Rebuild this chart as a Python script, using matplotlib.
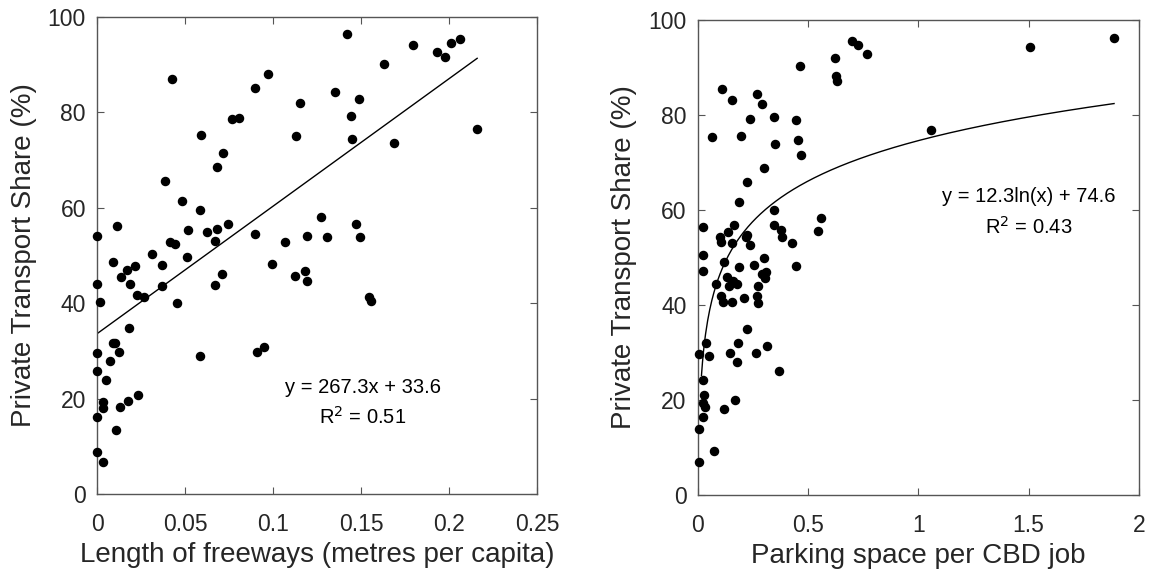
import numpy as np
import matplotlib
matplotlib.use("Agg")
import matplotlib.pyplot as plt

plt.rcParams['font.family'] = ['Liberation Sans', 'DejaVu Sans']

# Left panel: length of freeways (m per capita) vs private transport share (%)
fw_x = [0.0428, 0.097, 0.0898, 0.0769, 0.0807, 0.0593, 0.0714, 0.0682, 0.0388, 0.0481,
        0.0583, 0.0115, 0.0, 0.0519, 0.0627, 0.068, 0.0742, 0.0898, 0.0672, 0.0415,
        0.0445, 0.1068, 0.0089, 0.0311, 0.051, 0.0169, 0.0216, 0.0136, 0.0371, 0.0186,
        0.0002, 0.0371, 0.0225, 0.0265, 0.0017, 0.0455, 0.0992, 0.067, 0.071, 0.0184,
        0.0089, 0.0104, 0.0127, 0.0, 0.0074, 0.0, 0.0051, 0.0585, 0.0907, 0.0951,
        0.0036, 0.0036, 0.0131, 0.0178, 0.0231, 0.0, 0.0108, 0.0, 0.0032,
        0.1419, 0.1794, 0.193, 0.1977, 0.2013, 0.2064, 0.1633, 0.1354, 0.1153, 0.1487,
        0.1441, 0.1129, 0.1451, 0.1685, 0.2161, 0.1275, 0.1472, 0.1193, 0.1307, 0.1494,
        0.1123, 0.118, 0.1195, 0.1547, 0.1559]
fw_y = [87.0, 88.0, 85.1, 78.7, 78.9, 75.3, 71.4, 68.6, 65.7, 61.4,
        59.6, 56.2, 54.0, 55.4, 55.0, 55.5, 56.5, 54.6, 53.1, 52.9,
        52.5, 52.8, 48.7, 50.4, 49.6, 46.9, 47.7, 45.5, 48.0, 44.1,
        44.1, 43.7, 41.7, 41.3, 40.3, 40.1, 48.2, 43.9, 46.2, 34.7,
        31.7, 31.7, 29.8, 29.5, 27.8, 25.8, 24.0, 29.0, 29.8, 30.9,
        19.2, 18.0, 18.2, 19.6, 20.8, 16.1, 13.5, 8.9, 6.7,
        96.4, 94.1, 92.6, 91.6, 94.6, 95.3, 90.2, 84.2, 82.0, 82.8,
        79.2, 75.0, 74.5, 73.6, 76.6, 58.1, 56.6, 54.0, 53.8, 53.9,
        45.8, 46.7, 44.6, 41.3, 40.4]
fw_slope, fw_icept = 267.3, 33.6
fw_xmax = 0.216

# Right panel: parking space per CBD job vs private transport share (%)
pk_x = [0.699, 0.729, 0.769, 0.623, 0.466, 0.628, 0.631, 0.113, 0.157, 0.270,
        0.293, 0.238, 0.348, 0.445, 0.0665, 0.196, 0.350, 0.454, 0.468, 0.300,
        0.225, 0.186, 0.348, 0.027, 0.165, 0.346, 0.558, 0.548, 0.379, 0.382,
        0.427, 0.140, 0.103, 0.107, 0.157, 0.226, 0.220, 0.238,
        0.024, 0.024, 0.122, 0.189, 0.258, 0.300, 0.447, 0.133, 0.085, 0.143,
        0.160, 0.178, 0.291, 0.311, 0.305, 0.276, 0.107, 0.116, 0.156, 0.211,
        0.270, 0.272, 0.222, 0.039, 0.184, 0.317, 0.005, 0.050, 0.148, 0.264,
        0.177, 0.370, 0.024, 0.030, 0.027, 0.033, 0.172, 0.121, 0.024, 0.006,
        0.076, 0.005, 1.505, 1.887, 1.059]
pk_y = [95.6, 94.8, 92.8, 91.9, 90.4, 88.3, 87.2, 85.4, 83.1, 84.4,
        82.3, 79.2, 79.5, 78.9, 75.3, 75.6, 73.9, 74.7, 71.6, 68.8,
        66.0, 61.7, 60.0, 56.4, 56.8, 56.8, 58.4, 55.6, 55.7, 54.3,
        53.1, 55.3, 54.3, 53.3, 53.1, 54.7, 54.3, 52.7,
        50.6, 47.2, 49.0, 48.0, 48.4, 49.9, 48.3, 46.0, 44.4, 44.1,
        45.1, 44.4, 46.5, 47.0, 45.7, 43.9, 42.0, 40.6, 40.7, 41.4,
        41.8, 40.4, 34.9, 31.9, 31.9, 31.3, 29.7, 29.2, 30.0, 30.0,
        28.0, 26.1, 24.2, 21.1, 19.4, 18.5, 19.9, 18.2, 16.4, 13.8,
        9.3, 6.9, 94.4, 96.2, 76.9]
pk_a, pk_b = 12.3, 74.6
pk_xmin, pk_xmax = 0.018, 1.887

W, H = 1149, 577
fig = plt.figure(figsize=(W / 100, H / 100), dpi=100)
ax1 = fig.add_axes([97 / W, 1 - 494 / H, 440 / W, 477 / H])
ax2 = fig.add_axes([697.5 / W, 1 - 495 / H, 441.5 / W, 475 / H])

def style(ax):
    for s in ax.spines.values():
        s.set_color('#555555')
        s.set_linewidth(1.0)
    ax.tick_params(direction='in', top=True, right=True, length=5,
                   width=0.8, color='#555555', labelsize=16.5, labelcolor='#262626')
    ax.tick_params(axis='x', pad=14)
    ax.tick_params(axis='y', pad=8)
    ax.set_ylabel('Private Transport Share (%)', fontsize=20, color='#262626', labelpad=8)

ax1.scatter(fw_x, fw_y, s=34, color='black', zorder=3, clip_on=False)
lx = np.linspace(0, fw_xmax, 50)
ax1.plot(lx, fw_slope * lx + fw_icept, color='black', lw=1.0)
ax1.set_xlim(0, 0.25)
ax1.set_ylim(0, 100)
ax1.set_xticks([0, 0.05, 0.1, 0.15, 0.2, 0.25])
ax1.set_xticklabels(['0', '0.05', '0.1', '0.15', '0.2', '0.25'])
ax1.set_yticks([0, 20, 40, 60, 80, 100])
ax1.set_xlabel('Length of freeways (metres per capita)', fontsize=20, color='#262626', labelpad=4)
ax1.text(0.151, 22.4, 'y = 267.3x + 33.6', ha='center', va='center', fontsize=14.5)
ax1.text(0.151, 16.2, 'R$^2$ = 0.51', ha='center', va='center', fontsize=14.5)
style(ax1)

ax2.scatter(pk_x, pk_y, s=34, color='black', zorder=3, clip_on=False)
cx = np.linspace(pk_xmin, pk_xmax, 400)
ax2.plot(cx, pk_a * np.log(cx) + pk_b, color='black', lw=1.0)
ax2.set_xlim(0, 2)
ax2.set_ylim(0, 100)
ax2.set_xticks([0, 0.5, 1, 1.5, 2])
ax2.set_xticklabels(['0', '0.5', '1', '1.5', '2'])
ax2.set_yticks([0, 20, 40, 60, 80, 100])
ax2.set_xlabel('Parking space per CBD job', fontsize=20, color='#262626', labelpad=4)
ax2.text(1.50, 62.8, 'y = 12.3ln(x) + 74.6', ha='center', va='center', fontsize=14.5)
ax2.text(1.50, 56.5, 'R$^2$ = 0.43', ha='center', va='center', fontsize=14.5)
style(ax2)

fig.savefig('out.png', dpi=100)
